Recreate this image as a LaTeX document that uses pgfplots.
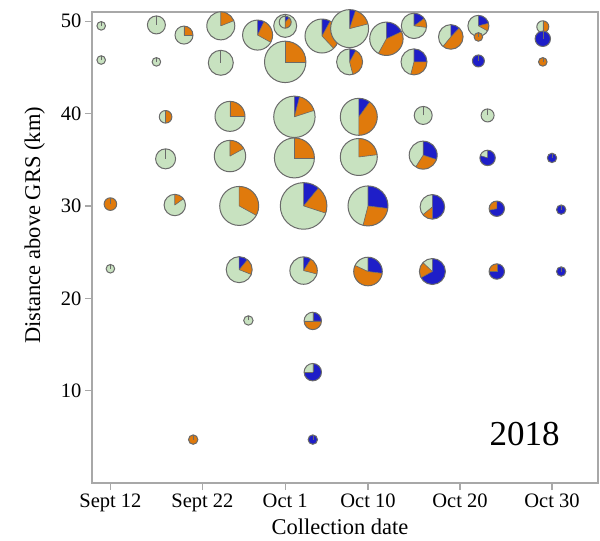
\documentclass[border=0pt]{standalone}
\usepackage{pgfplots}
\pgfplotsset{compat=1.18}
\usepackage{fontspec}
\setmainfont{Liberation Serif}
\definecolor{pgreen}{HTML}{C8E2C0}
\definecolor{porange}{HTML}{E07A0C}
\definecolor{pblue}{HTML}{1E1EC8}
\definecolor{pedge}{HTML}{6A6A6A}
\definecolor{axgray}{HTML}{A8A8A8}

\pgfdeclareplotmark{emptymark}{}

\newcommand\piemarker{%
  \begingroup
  \pgfkeys{/pgf/fpu=false}%
  \pgfmathsetmacro\aB{90-360*\pb}%
  \pgfmathsetmacro\aO{\aB-360*\po}%
  \pgfsetfillcolor{pgreen}%
  \pgfpathcircle{\pgfpointorigin}{\pr pt}\pgfusepath{fill}%
  \ifdim\pb pt>0.001pt
    \pgfsetfillcolor{pblue}%
    \pgfpathmoveto{\pgfpointorigin}\pgfpathlineto{\pgfpointpolar{90}{\pr pt}}%
    \pgfpatharc{90}{\aB}{\pr pt}\pgfpathclose\pgfusepath{fill}%
  \fi
  \ifdim\po pt>0.001pt
    \pgfsetfillcolor{porange}%
    \pgfpathmoveto{\pgfpointorigin}\pgfpathlineto{\pgfpointpolar{\aB}{\pr pt}}%
    \pgfpatharc{\aB}{\aO}{\pr pt}\pgfpathclose\pgfusepath{fill}%
  \fi
  \pgfsetstrokecolor{pedge}\pgfsetlinewidth{0.6pt}%
  \pgfpathmoveto{\pgfpointorigin}\pgfpathlineto{\pgfpointpolar{90}{\pr pt}}%
  \pgfpathmoveto{\pgfpointorigin}\pgfpathlineto{\pgfpointpolar{\aB}{\pr pt}}%
  \pgfpathmoveto{\pgfpointorigin}\pgfpathlineto{\pgfpointpolar{\aO}{\pr pt}}%
  \pgfusepath{stroke}%
  \pgfsetlinewidth{1pt}%
  \pgfpathcircle{\pgfpointorigin}{\pr pt}\pgfusepath{stroke}%
  \endgroup
}

\begin{document}
\begin{tikzpicture}
\begin{axis}[
  at={(0,0)}, anchor=south west,
  scale only axis, width=506pt, height=471pt,
  xmin=10, xmax=65, ymin=0, ymax=51,
  axis line style={axgray, line width=1.2pt},
  tick style={axgray, line width=1.2pt},
  tick align=outside, major tick length=7pt,
  xtick={12,22,31,40,50,60},
  xticklabels={Sept 12, Sept 22, Oct 1, Oct 10, Oct 20, Oct 30},
  ytick={10,20,30,40,50},
  tick pos=left,
  minor tick num=0,
  tick label style={font=\fontsize{20.5}{24}\selectfont, black},
  /pgf/number format/assume math mode=true,
  xlabel={Collection date}, ylabel={Distance above GRS (km)},
  every axis x label/.style={at={(axis description cs:0.49,0)}, anchor=base, yshift=-51pt, font=\fontsize{22.5}{26}\selectfont},
  every axis y label/.style={at={(axis cs:3.77,27.9)}, anchor=center, rotate=90, font=\fontsize{22.5}{26}\selectfont},
  clip=false,
]
\addplot[scatter, only marks, mark=emptymark,
  visualization depends on={\thisrow{r} \as \pr},
  visualization depends on={\thisrow{b} \as \pb},
  visualization depends on={\thisrow{o} \as \po},
  scatter/@pre marker code/.code={\piemarker},
  scatter/@post marker code/.code={},
] table[x=d, y=km] {
d km r b o
11 49.5 4.3 0 0
11 45.8 4.3 0 0
12 30.2 6.3 0 1
12 23.2 4.3 0 0
17 49.6 9 0 0
17 45.6 4.3 0 0
18 39.65 6.3 0 0.5
18 35.1 10 0 0
19 30.1 10.7 0 0.15
20 48.5 9 0 0.25
21 4.7 4.7 0 1
24 49.5 14 0 0.19
24 45.5 12.5 0 0
25 39.7 15 0 0.25
25 35.4 15.7 0 0.17
26 30.0 19.5 0 0.33
26 23.1 13 0.11 0.2
27 17.6 4.7 0 0
28 48.5 15 0.07 0.26
31 49.5 11.5 0 0
31 49.9 6 0.12 0.38
31 45.6 20.7 0 0.25
32 39.65 20.7 0.04 0.16
32 35.2 20 0 0.25
33 30.0 23.3 0.11 0.19
33 23.0 13.7 0.09 0.2
34 17.55 8.7 0.25 0.5
34 12.0 8.7 0.75 0
34 4.7 4.7 1 0
35 48.4 17 0.08 0.3
38 49.2 19 0.05 0.16
38 45.6 13 0.08 0.38
39 39.65 18.5 0.1 0.4
39 35.3 18.5 0 0.23
40 30.0 20 0.27 0.27
40 22.9 14.3 0.27 0.55
42 48.1 16.7 0.18 0.4
45 49.5 12.7 0.15 0.12
45 45.6 13 0.25 0.29
46 39.8 9 0 0
46 35.5 14 0.3 0.29
47 29.9 12.3 0.5 0.14
47 22.9 13 0.67 0.2
49 48.3 12.3 0.12 0.49
52 49.5 10.5 0.21 0.12
52 48.3 4.3 0 1
52 45.7 6 1 0
53 39.8 6.5 0 0
53 35.2 7.7 0.8 0
54 29.7 7.7 0.72 0.28
54 22.9 7.7 0.75 0.25
59 49.4 6 0 0.5
59 48.1 7.7 1 0
59 45.6 4.3 0 1
60 35.2 4.7 1 0
61 29.6 4.7 1 0
61 22.9 4.7 1 0
};
\node[anchor=base west, font=\fontsize{35}{40}\selectfont, inner sep=0pt] at (axis cs:53.2,4.1) {2018};
\end{axis}
\pgfresetboundingbox
\path (-92pt,-58pt) rectangle (508pt,483pt);
\end{tikzpicture}
\end{document}
